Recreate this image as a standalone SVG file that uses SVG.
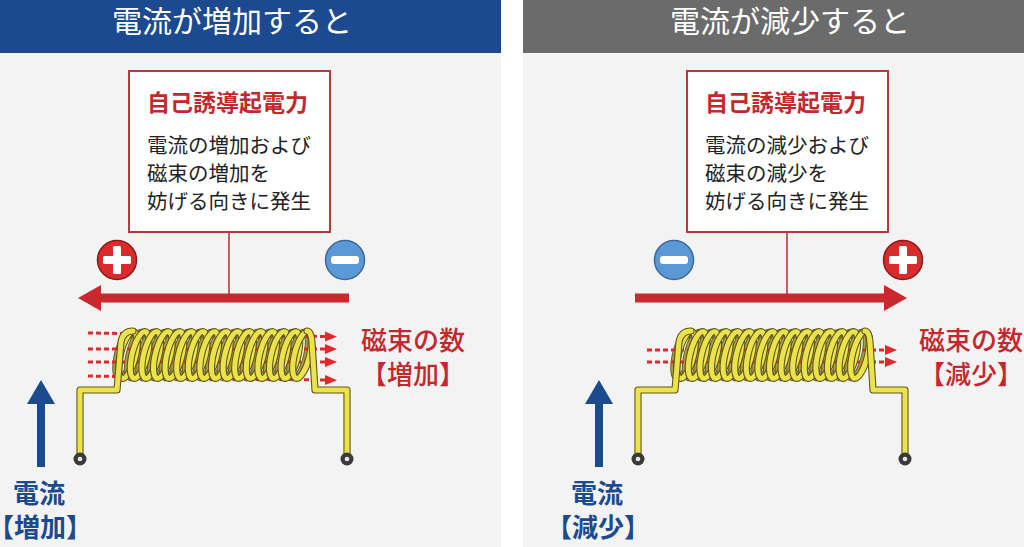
<svg xmlns="http://www.w3.org/2000/svg" xmlns:xlink="http://www.w3.org/1999/xlink" width="1024" height="547" viewBox="0 0 1024 547">
<style>
.jp{font-family:"Noto Sans CJK JP","Noto Sans",sans-serif}
.hdr{font-size:30px;fill:#fff;font-weight:400;text-anchor:middle}
.box{fill:#fff;stroke:#b9393b;stroke-width:2}
.ttl{font-size:23px;fill:#c4282c;font-weight:700}
.body{font-size:20.5px;fill:#222;font-weight:400}
.stem{stroke:#b9393b;stroke-width:1.6}
.emf{fill:#c9292e}
.plus{fill:#d92b2b;stroke:#8c1a1a;stroke-width:1.5}
.minus{fill:#5d98d6;stroke:#3a6aa0;stroke-width:1.5}
.sign{fill:#fff}
.flux{stroke:#e2282a;stroke-width:3;stroke-dasharray:5 3;fill:none}
.lbl-r{font-size:26px;fill:#c4282c;font-weight:500}
.lbl-b{font-size:26px;fill:#1b4a8f;font-weight:700;text-anchor:middle}
.cur{fill:#1b4a8f}
.lo{fill:none;stroke:#5e581c;stroke-width:7.2;stroke-linejoin:round;stroke-linecap:round}
.li{fill:none;stroke:#ece24c;stroke-width:5;stroke-linejoin:round;stroke-linecap:round}
.bo{fill:none;stroke:#6a6326;stroke-width:6}
.bi{fill:none;stroke:#a89e40;stroke-width:4}
.term{fill:#3a3a3a}
.termc{fill:#e6e6e6}
</style>
<defs>
<marker id="ah" markerUnits="userSpaceOnUse" markerWidth="13" markerHeight="11" refX="1" refY="5.5" orient="auto">
<path d="M0,0.5 L12,5.5 L0,10.5 Z" fill="#e2282a"/>
</marker>
<g id="lb"><ellipse rx="7.5" ry="24" transform="rotate(14)" class="bo"/><ellipse rx="7.5" ry="24" transform="rotate(14)" class="bi"/></g>
<g id="lf"><ellipse rx="7.5" ry="24" transform="rotate(14)" class="lo"/><ellipse rx="7.5" ry="24" transform="rotate(14)" class="li"/></g>
<g id="coilBack">
<use xlink:href="#lb" x="124.5" y="355"/><use xlink:href="#lb" x="136.1" y="355"/><use xlink:href="#lb" x="147.7" y="355"/><use xlink:href="#lb" x="159.3" y="355"/>
<use xlink:href="#lb" x="170.9" y="355"/><use xlink:href="#lb" x="182.5" y="355"/><use xlink:href="#lb" x="194.1" y="355"/><use xlink:href="#lb" x="205.7" y="355"/>
<use xlink:href="#lb" x="217.3" y="355"/><use xlink:href="#lb" x="228.9" y="355"/><use xlink:href="#lb" x="240.5" y="355"/><use xlink:href="#lb" x="252.1" y="355"/>
<use xlink:href="#lb" x="263.7" y="355"/><use xlink:href="#lb" x="275.3" y="355"/><use xlink:href="#lb" x="286.9" y="355"/><use xlink:href="#lb" x="298.5" y="355"/>
</g>
<g id="coilFront">
<use xlink:href="#lf" x="128" y="355"/><use xlink:href="#lf" x="139.6" y="355"/><use xlink:href="#lf" x="151.2" y="355"/><use xlink:href="#lf" x="162.8" y="355"/>
<use xlink:href="#lf" x="174.4" y="355"/><use xlink:href="#lf" x="186" y="355"/><use xlink:href="#lf" x="197.6" y="355"/><use xlink:href="#lf" x="209.2" y="355"/>
<use xlink:href="#lf" x="220.8" y="355"/><use xlink:href="#lf" x="232.4" y="355"/><use xlink:href="#lf" x="244" y="355"/><use xlink:href="#lf" x="255.6" y="355"/>
<use xlink:href="#lf" x="267.2" y="355"/><use xlink:href="#lf" x="278.8" y="355"/><use xlink:href="#lf" x="290.4" y="355"/><use xlink:href="#lf" x="302" y="355"/>
</g>
<g id="leads">
<path d="M80,456 V390 H117 L121,342 Q123,331 133,331" class="lo"/>
<path d="M80,456 V390 H117 L121,342 Q123,331 133,331" class="li"/>
<path d="M307,331 Q311,331 312,342 L315,390 H347 V456" class="lo"/>
<path d="M307,331 Q311,331 312,342 L315,390 H347 V456" class="li"/>
<circle cx="80" cy="459" r="6.5" class="term"/><circle cx="80" cy="459" r="2.3" class="termc"/>
<circle cx="347" cy="459" r="6.5" class="term"/><circle cx="347" cy="459" r="2.3" class="termc"/>
</g>
</defs>
<rect x="0" y="0" width="1024" height="547" fill="#fff"/>

<g id="panel-increase">
<rect x="0" y="0" width="501" height="547" fill="#f3f3f3"/>
<rect x="0" y="0" width="501" height="53" fill="#1b4a90"/>
<text x="232" y="32" class="jp hdr">電流が増加すると</text>
</g>

<g id="panel-decrease">
<rect x="523" y="0" width="501" height="547" fill="#f3f3f3"/>
<rect x="523" y="0" width="501" height="53" fill="#6b6b6b"/>
<text x="790" y="32" class="jp hdr">電流が減少すると</text>
</g>

<g id="connectors">
<line x1="229" y1="232" x2="229" y2="295" class="stem"/>
<line x1="787" y1="232" x2="787" y2="295" class="stem"/>
</g>

<g id="emf-box-increase">
<rect x="129" y="71" width="201" height="161" class="box"/>
<text x="147" y="111" class="jp ttl">自己誘導起電力</text>
<text x="147" y="153" class="jp body">電流の増加および</text>
<text x="147" y="181" class="jp body">磁束の増加を</text>
<text x="147" y="209" class="jp body">妨げる向きに発生</text>
</g>

<g id="emf-box-decrease">
<rect x="687" y="71" width="201" height="161" class="box"/>
<text x="705" y="111" class="jp ttl">自己誘導起電力</text>
<text x="705" y="153" class="jp body">電流の減少および</text>
<text x="705" y="181" class="jp body">磁束の減少を</text>
<text x="705" y="209" class="jp body">妨げる向きに発生</text>
</g>

<g id="emf-arrow-increase">
<rect x="99" y="293.5" width="250" height="9" class="emf"/>
<path d="M78,298 L101,285 L101,311 Z" class="emf"/>
<circle cx="117" cy="260" r="19.5" class="plus"/>
<rect x="103" y="256" width="28" height="8" rx="1.5" class="sign"/>
<rect x="113" y="246" width="8" height="28" rx="1.5" class="sign"/>
<circle cx="345" cy="260" r="19.5" class="minus"/>
<rect x="331" y="256" width="28" height="8" rx="3" class="sign"/>
</g>

<g id="emf-arrow-decrease">
<rect x="635" y="293.5" width="250" height="9" class="emf"/>
<path d="M907,298 L884,285 L884,311 Z" class="emf"/>
<circle cx="674" cy="260" r="19.5" class="minus"/>
<rect x="660" y="256" width="28" height="8" rx="3" class="sign"/>
<circle cx="903" cy="260" r="19.5" class="plus"/>
<rect x="889" y="256" width="28" height="8" rx="1.5" class="sign"/>
<rect x="899" y="246" width="8" height="28" rx="1.5" class="sign"/>
</g>

<g id="coil-increase">
<use xlink:href="#coilBack"/>
<path d="M88,333 L326,336.5" class="flux" marker-end="url(#ah)"/>
<path d="M88,349 L326,349" class="flux" marker-end="url(#ah)"/>
<path d="M88,362 L326,362" class="flux" marker-end="url(#ah)"/>
<path d="M88,376 L326,380" class="flux" marker-end="url(#ah)"/>
<use xlink:href="#coilFront"/>
<use xlink:href="#leads"/>
</g>

<g id="coil-decrease">
<use xlink:href="#coilBack" transform="translate(558,0)"/>
<path d="M647,350 L886,350" class="flux" marker-end="url(#ah)"/>
<path d="M647,362 L886,362" class="flux" marker-end="url(#ah)"/>
<use xlink:href="#coilFront" transform="translate(558,0)"/>
<use xlink:href="#leads" transform="translate(558,0)"/>
</g>

<g id="flux-label-increase">
<text x="361" y="350" class="jp lbl-r">磁束の数</text>
<text x="361" y="384" class="jp lbl-r">【増加】</text>
</g>
<g id="flux-label-decrease">
<text x="919" y="350" class="jp lbl-r">磁束の数</text>
<text x="919" y="384" class="jp lbl-r">【減少】</text>
</g>

<g id="current-increase">
<rect x="37" y="400" width="8" height="67" class="cur"/>
<path d="M41,380 L55,404 L27,404 Z" class="cur"/>
<text x="39" y="503" class="jp lbl-b">電流</text>
<text x="40" y="537" class="jp lbl-b">【増加】</text>
</g>
<g id="current-decrease">
<rect x="595" y="400" width="8" height="67" class="cur"/>
<path d="M599,380 L613,404 L585,404 Z" class="cur"/>
<text x="597" y="503" class="jp lbl-b">電流</text>
<text x="598" y="537" class="jp lbl-b">【減少】</text>
</g>
</svg>
